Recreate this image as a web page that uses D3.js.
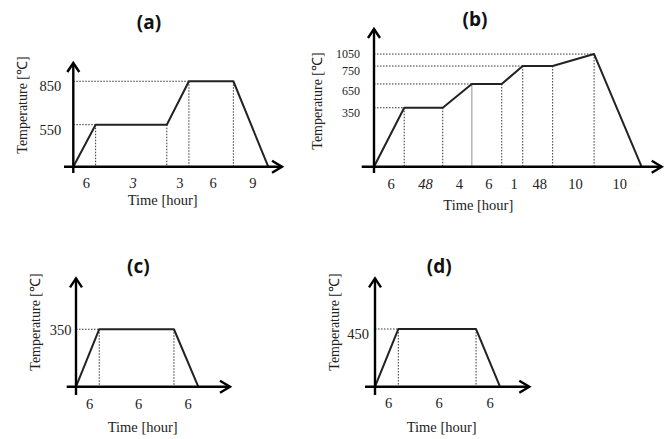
<!DOCTYPE html>
<html><head><meta charset="utf-8">
<script src="https://cdn.jsdelivr.net/npm/d3@7"></script>
<style>body{margin:0;background:#fff}svg{display:block}</style>
</head><body>
<svg id="chart" width="672" height="439"></svg>
<script>
// ---- data (schematic heat-treatment profiles) ----
const titles = ["(a)", "(b)", "(c)", "(d)"];

// vertex positions along the (schematic) time axis, percent of axis length
const aTime = [0, 10.7, 44.8, 55.4, 76.7, 93.4];
const aTemp = [0, 550, 550, 850, 850, 0];
const aHeight = [0, 40.5, 40.5, 82.4, 82.4, 0];   // schematic height, percent of axis
const aTicks = [550, 850];
const aHours = ["6", "3", "3", "6", "9"];

const bTime = [0, 10.5, 23.9, 34.0, 44.4, 51.7, 62.1, 76.5, 93.0];
const bTemp = [0, 350, 350, 650, 650, 750, 750, 1050, 0];
const bHeight = [0, 42.8, 42.8, 60.1, 60.1, 73.1, 73.1, 81.8, 0];
const bTicks = [350, 650, 750, 1050];
const bHours = ["6", "48", "4", "6", "1", "48", "10", "10"];

const cTime = [0, 15.1, 63.6, 79.4];
const cTemp = [0, 350, 350, 0];
const cHeight = [0, 53.0, 53.0, 0];
const cTicks = [350];
const cHours = ["6", "6", "6"];

const dTime = [0, 15.1, 65.5, 81.0];
const dTemp = [0, 450, 450, 0];
const dHeight = [0, 53.2, 53.2, 0];
const dTicks = [450];
const dHours = ["6", "6", "6"];

const panelsData = [
  {time: aTime, temp: aTemp, height: aHeight, ticks: aTicks, hours: aHours},
  {time: bTime, temp: bTemp, height: bHeight, ticks: bTicks, hours: bHours},
  {time: cTime, temp: cTemp, height: cHeight, ticks: cTicks, hours: cHours},
  {time: dTime, temp: dTemp, height: dHeight, ticks: dTicks, hours: dHours}
];

// ---- layout / style ----
const layout = [
  {ox: 73.3, oy: 166.7, x0: 64, xTip: 282, yBot: 173, yTip: 63,
   tX: 149, tY: 29, ylX: 22, ylY: 105, xlX: 162.7, xlY: 205, hourY: 188,
   tickSize: 14.5, tickGap: 12, tickDy: [5, 5], italic: [1], solidV: []},
  {ox: 374, oy: 166.7, x0: 361.7, xTip: 661.7, yBot: 173, yTip: 29,
   tX: 475, tY: 26, ylX: 317, ylY: 101, xlX: 478.3, xlY: 210, hourY: 188.5,
   tickSize: 12, tickGap: 14, tickDy: [5.5, 6.5, 4.5, 0], italic: [1], solidV: [3]},
  {ox: 76, oy: 386.7, x0: 66.7, xTip: 230, yBot: 395, yTip: 278.3,
   tX: 138.3, tY: 273, ylX: 35, ylY: 322, xlX: 142.7, xlY: 431.5, hourY: 408.5,
   tickSize: 14.5, tickGap: 4.5, tickDy: [0.5], italic: [], solidV: []},
  {ox: 375, oy: 386.7, x0: 365, xTip: 529.3, yBot: 395, yTip: 278.3,
   tX: 439.3, tY: 273, ylX: 334, ylY: 322, xlX: 441.7, xlY: 431.5, hourY: 408,
   tickSize: 14.5, tickGap: 6, tickDy: [5], italic: [], solidV: []}
];

const svg = d3.select("#chart");
const serif = "'Liberation Serif','Times New Roman',serif";

panelsData.forEach((pd, i) => {
  const L = layout[i];
  const g = svg.append("g");
  const x = d3.scaleLinear().domain([0, 100]).range([L.ox, L.xTip]);
  const y = d3.scaleLinear().domain([0, 100]).range([L.oy, L.yTip]);
  const pts = pd.time.map((t, k) => ({t, T: pd.temp[k], h: pd.height[k]}));

  // horizontal dotted guides: from y axis to first vertex at each tick temperature
  pd.ticks.forEach((tk, ti) => {
    const k = pd.temp.indexOf(tk);
    g.append("line")
      .attr("x1", L.ox).attr("x2", x(pts[k].t))
      .attr("y1", y(pts[k].h)).attr("y2", y(pts[k].h))
      .attr("stroke", "#333").attr("stroke-width", 1)
      .attr("stroke-dasharray", "1.5,1.5");
    g.append("text")
      .attr("x", L.ox - L.tickGap).attr("y", y(pts[k].h) + L.tickDy[ti])
      .attr("dy", "0.35em")
      .attr("text-anchor", "end")
      .attr("font-family", serif).attr("font-size", L.tickSize)
      .attr("fill", "#222")
      .text(tk);
  });

  // vertical guides at interior vertices
  pts.slice(1, -1).forEach((p, j) => {
    const k = j + 1;
    const solid = L.solidV.includes(k);
    g.append("line")
      .attr("x1", x(p.t)).attr("x2", x(p.t))
      .attr("y1", y(p.h)).attr("y2", L.oy)
      .attr("stroke", solid ? "#aaa" : "#333")
      .attr("stroke-width", solid ? 1.3 : 1)
      .attr("stroke-dasharray", solid ? null : "1.5,1.5");
  });

  // profile
  g.append("path")
    .datum(pts)
    .attr("d", d3.line().x(d => x(d.t)).y(d => y(d.h)))
    .attr("fill", "none").attr("stroke", "#222")
    .attr("stroke-width", 2).attr("stroke-linejoin", "round");

  // axes
  g.append("line").attr("x1", L.x0).attr("x2", L.xTip)
    .attr("y1", L.oy).attr("y2", L.oy)
    .attr("stroke", "#000").attr("stroke-width", 2.4);
  g.append("line").attr("x1", L.ox).attr("x2", L.ox)
    .attr("y1", L.yBot).attr("y2", L.yTip)
    .attr("stroke", "#000").attr("stroke-width", 2.4);
  g.append("path")
    .attr("d", `M${L.xTip - 10},${L.oy - 6}L${L.xTip},${L.oy}L${L.xTip - 10},${L.oy + 6}`)
    .attr("fill", "none").attr("stroke", "#000").attr("stroke-width", 2.4);
  g.append("path")
    .attr("d", `M${L.ox - 6},${L.yTip + 9}L${L.ox},${L.yTip}L${L.ox + 6},${L.yTip + 9}`)
    .attr("fill", "none").attr("stroke", "#000").attr("stroke-width", 2.4);

  // hour labels centred on each segment
  pd.hours.forEach((hr, k) => {
    const xm = (x(pts[k].t) + x(pts[k + 1].t)) / 2 + 2;
    g.append("text")
      .attr("x", xm).attr("y", L.hourY)
      .attr("text-anchor", "middle")
      .attr("font-family", serif).attr("font-size", 14.5)
      .attr("font-style", L.italic.includes(k) ? "italic" : "normal")
      .attr("fill", "#222")
      .text(hr);
  });

  // axis titles
  g.append("text")
    .attr("x", L.xlX).attr("y", L.xlY)
    .attr("text-anchor", "middle")
    .attr("font-family", serif).attr("font-size", 14.5).attr("fill", "#222")
    .text("Time [hour]");
  g.append("text")
    .attr("transform", `translate(${L.ylX},${L.ylY}) rotate(-90)`)
    .attr("text-anchor", "middle").attr("dy", "0.35em")
    .attr("font-family", serif).attr("font-size", 14).attr("fill", "#222")
    .text("Temperature [℃]");

  // panel title
  g.append("text")
    .attr("x", L.tX).attr("y", L.tY)
    .attr("text-anchor", "middle")
    .attr("font-family", "'Open Sans', Lato, sans-serif")
    .attr("font-weight", "bold").attr("font-size", 19).attr("fill", "#111")
    .text(titles[i]);
});
</script>
</body></html>
